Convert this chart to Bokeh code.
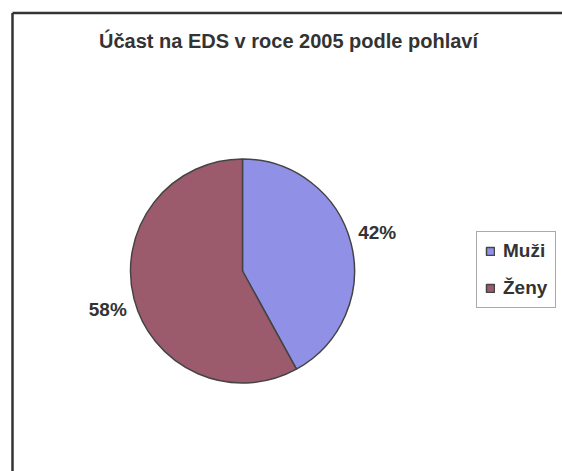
import numpy as np
from bokeh.plotting import figure
from bokeh.models import Range1d, ColumnDataSource, Legend, LegendItem
from bokeh.core.properties import value
from bokeh.embed import file_html
from bokeh.resources import INLINE

title_text = "Účast na EDS v roce 2005 podle pohlaví"
categories = ["Muži", "Ženy"]
shares = [0.42, 0.58]
colors = ["#9090e6", "#9b5b6c"]

W, H = 562, 471
p = figure(width=W, height=H, output_backend="svg", toolbar_location=None,
           x_range=Range1d(0, W), y_range=Range1d(0, H), min_border=0,
           outline_line_color=None)
p.axis.visible = False
p.grid.visible = False
p.background_fill_color = "white"
p.border_fill_color = "white"

# frame
p.line([12, 12], [0, 458.5], line_color="#333333", line_width=2.5)
p.line([12, W], [458.5, 458.5], line_color="#333333", line_width=2.5)

cx, cy, r = 242, 200.5, 112
frac = np.array(shares)
cum = np.cumsum(frac)
prev = cum - frac
start = np.pi / 2 - 2 * np.pi * prev
end = np.pi / 2 - 2 * np.pi * cum
mid = (start + end) / 2

renderers = []
for i, cat in enumerate(categories):
    src = ColumnDataSource(dict(x=[cx], y=[cy], s=[start[i]], e=[end[i]]))
    rr = p.wedge(x="x", y="y", radius=r, start_angle="s", end_angle="e",
                 direction="clock", source=src, fill_color=colors[i],
                 line_color="#444444", line_width=1.5)
    renderers.append(rr)

rl = 140
lab = ColumnDataSource(dict(
    x=[cx + rl * np.cos(m + 0.025) for m in mid],
    y=[cy + rl * np.sin(m + 0.025) for m in mid],
    t=[f"{round(s*100)}%" for s in shares]))
p.text(x="x", y="y", text="t", source=lab, text_align="center",
       text_baseline="middle", text_font=value("Liberation Sans"),
       text_font_size="19px", text_font_style="bold", text_color="#333333")

p.text(x=[288], y=[431], text=[title_text], text_align="center",
       text_baseline="middle", text_font=value("Liberation Sans"),
       text_font_size="20px", text_font_style="bold", text_color="#333333")

legend = Legend(items=[LegendItem(label=c, renderers=[renderers[i]]) for i, c in enumerate(categories)],
                location=(476, 163))
legend.label_text_font = "Liberation Sans"
legend.label_text_font_size = "19px"
legend.label_text_font_style = "bold"
legend.label_text_color = "#333333"
legend.glyph_width = 10
legend.glyph_height = 10
legend.label_height = 22
legend.label_standoff = 8
legend.padding = 8
legend.spacing = 15
legend.margin = 0
legend.border_line_color = "#555555"
legend.border_line_width = 1
legend.background_fill_alpha = 1
p.add_layout(legend, "center")

open("out.html", "w").write(file_html(p, INLINE))
